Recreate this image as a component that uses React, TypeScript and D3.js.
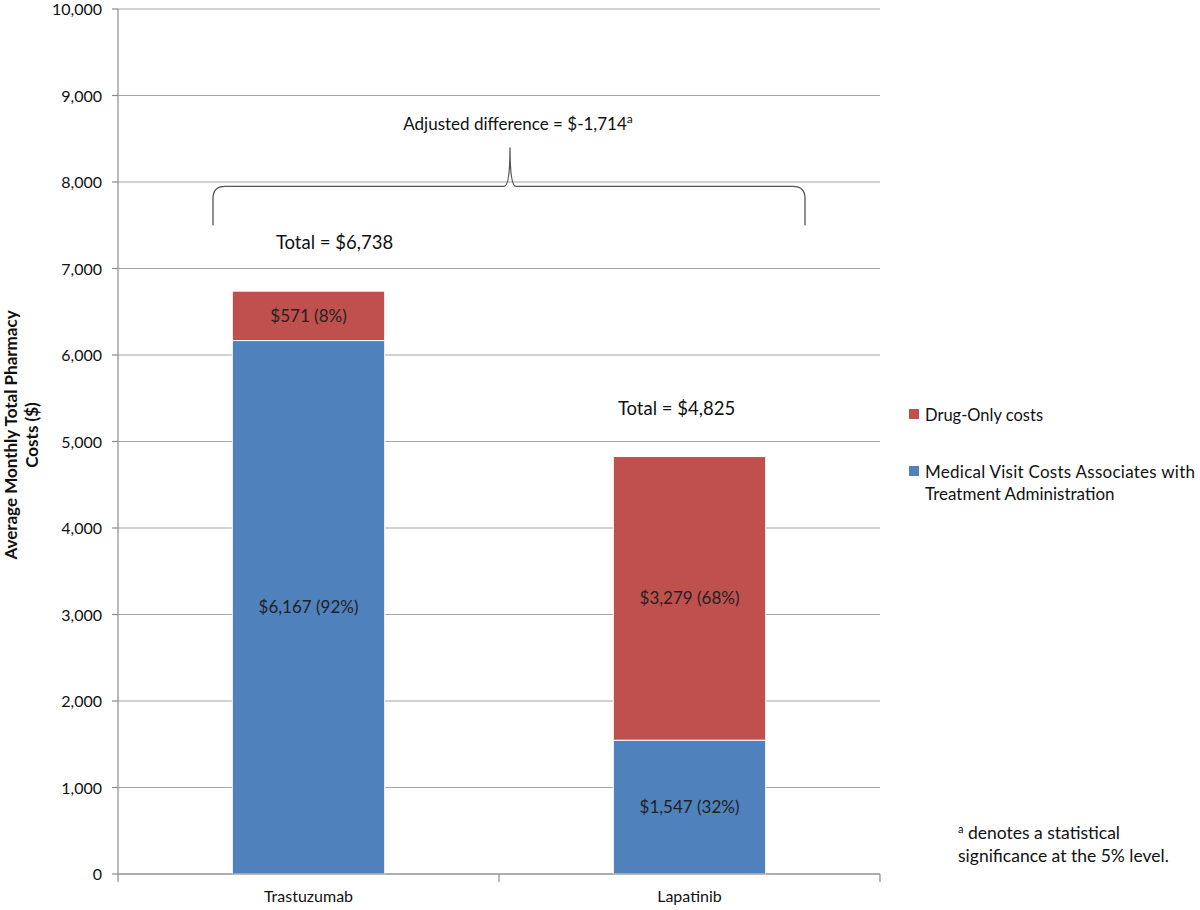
import React from "react";
import * as d3 from "d3";

const categories = ["Trastuzumab", "Lapatinib"];
const medicalVisit = [6167, 1547];
const drugOnly = [571, 3279];
const medicalLabels = ["$6,167 (92%)", "$1,547 (32%)"];
const drugLabels = ["$571 (8%)", "$3,279 (68%)"];
const totalLabels = ["Total = $6,738", "Total = $4,825"];
const yTicks = [0, 1000, 2000, 3000, 4000, 5000, 6000, 7000, 8000, 9000, 10000];
const seriesNames = ["Drug-Only costs", "Medical Visit Costs Associates with", "Treatment Administration"];

const W = 1200, H = 910;
const left = 118, right = 880, top = 9, bottom = 874;
const FONT = "Lato, 'Open Sans', sans-serif";
const BLUE = "#4F81BD";
const RED = "#C0504D";
const totalDx = [26, -13];

export default function App() {
  const x = d3.scaleBand<string>().domain(categories).range([left, right]).paddingInner(0).paddingOuter(0);
  const y = d3.scaleLinear().domain([0, 10000]).range([bottom, top]);
  const bw = x.bandwidth() * 0.4;
  const fmt = d3.format(",");

  // bracket
  const bl = 213, br = 805, bm = 510;
  const yEnd = y(7500), yMid = y(7950), yPeak = y(8400);
  const r = 12;
  const brace = `M${bl},${yEnd} L${bl},${yMid + r} Q${bl},${yMid} ${bl + r},${yMid} L${bm - 6},${yMid} Q${bm},${yMid} ${bm},${yPeak}` +
    ` Q${bm},${yMid} ${bm + 6},${yMid} L${br - r},${yMid} Q${br},${yMid} ${br},${yMid + r} L${br},${yEnd}`;

  return (
    <svg width={W} height={H} style={{ position: "absolute", left: 0, top: 0, background: "#fff" }} fontFamily={FONT}>
      {/* gridlines */}
      {yTicks.map((t) => (
        <line key={"g" + t} x1={left} x2={right} y1={y(t)} y2={y(t)} stroke="#a6a6a6" strokeWidth={1.2} />
      ))}
      {/* bars */}
      {categories.map((c, i) => {
        const x0 = (x(c) as number) + (x.bandwidth() - bw) / 2;
        const yb1 = y(medicalVisit[i]);
        const yb2 = y(medicalVisit[i] + drugOnly[i]);
        return (
          <g key={c}>
            <rect x={x0} y={yb1} width={bw} height={bottom - yb1} fill={BLUE} stroke="#fff" strokeWidth={1} />
            <rect x={x0} y={yb2} width={bw} height={yb1 - yb2} fill={RED} stroke="#fff" strokeWidth={1} />
            <text x={x0 + bw / 2} y={(yb1 + bottom) / 2 + 6} textAnchor="middle" fontSize={17} fill="#222">{medicalLabels[i]}</text>
            <text x={x0 + bw / 2} y={(yb1 + yb2) / 2 + 6} textAnchor="middle" fontSize={17} fill="#222">{drugLabels[i]}</text>
            <text x={x0 + bw / 2 + totalDx[i]} y={yb2 - 42} textAnchor="middle" fontSize={18.5} fill="#111">{totalLabels[i]}</text>
          </g>
        );
      })}
      {/* axes */}
      <line x1={left} x2={left} y1={top} y2={bottom} stroke="#8c8c8c" strokeWidth={1.2} />
      {yTicks.map((t) => (
        <g key={"t" + t}>
          <line x1={left - 6} x2={left} y1={y(t)} y2={y(t)} stroke="#8c8c8c" strokeWidth={1.2} />
          <text x={left - 16} y={y(t) + 6} textAnchor="end" fontSize={16} fill="#111">{fmt(t)}</text>
        </g>
      ))}
      <line x1={left} x2={right} y1={bottom} y2={bottom} stroke="#8c8c8c" strokeWidth={1.2} />
      {[left, ...categories.map((c) => (x(c) as number) + x.bandwidth())].map((v, i) => (
        <line key={"bt" + i} x1={v} x2={v} y1={bottom} y2={bottom + 8} stroke="#8c8c8c" strokeWidth={1.2} />
      ))}
      {categories.map((c) => (
        <text key={"c" + c} x={(x(c) as number) + x.bandwidth() / 2} y={bottom + 28} textAnchor="middle" fontSize={16} fill="#111">{c}</text>
      ))}
      {/* y title */}
      <g transform={`translate(17,435) rotate(-90)`}>
        <text x={0} y={0} textAnchor="middle" fontSize={17} fontWeight="bold" fill="#111">Average Monthly Total Pharmacy</text>
        <text x={0} y={21} textAnchor="middle" fontSize={17} fontWeight="bold" fill="#111">Costs ($)</text>
      </g>
      {/* bracket */}
      <path d={brace} fill="none" stroke="#555" strokeWidth={1.3} />
      <text x={518} y={130} textAnchor="middle" fontSize={17} fill="#111">
        Adjusted difference = $-1,714<tspan dy={-7} fontSize={12}>a</tspan>
      </text>
      {/* legend */}
      <rect x={909} y={409} width={10} height={10} fill={RED} />
      <text x={925} y={421} fontSize={16.5} fill="#111">{seriesNames[0]}</text>
      <rect x={909} y={466} width={10} height={10} fill={BLUE} />
      <text x={925} y={478} fontSize={17} fill="#111" textLength={270} lengthAdjust="spacing">{seriesNames[1]}</text>
      <text x={925} y={500} fontSize={17} fill="#111">{seriesNames[2]}</text>
      {/* footnote */}
      <text x={958} y={839} fontSize={17.5} fill="#111"><tspan fontSize={11} dy={-6}>a</tspan><tspan dy={6}> denotes a statistical</tspan></text>
      <text x={958} y={862} fontSize={17.5} fill="#111">significance at the 5% level.</text>
    </svg>
  );
}
